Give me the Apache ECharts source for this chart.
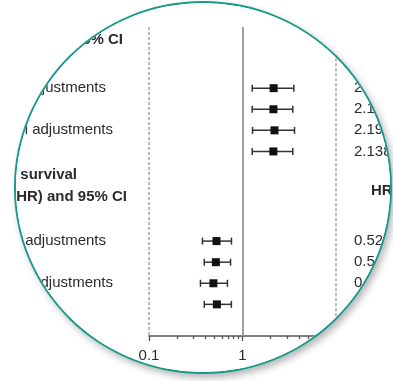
<!DOCTYPE html>
<html>
<head>
<meta charset="utf-8">
<script src="https://cdn.jsdelivr.net/npm/echarts@6/dist/echarts.min.js"></script>
<style>
  html, body { margin: 0; padding: 0; background: #ffffff; }
  #stage { position: relative; width: 393px; height: 381px; overflow: hidden; background: #fff; }
  #lens { position: absolute; left: 14px; top: 1px; width: 374px; height: 369px;
          border: 2px solid #189a8b; border-radius: 50%; overflow: hidden; background: #fff;
          box-shadow: 3px 4px 7px rgba(0,0,0,0.28); }
  #chart { position: absolute; left: -16px; top: -3px; width: 393px; height: 381px; }
</style>
</head>
<body>
<div id="stage"><div id="lens"><div id="chart"></div></div></div>
<script>
// ---- data ----
const rowsA = [0, 1, 2, 3];
const hrA   = [2.152, 2.143, 2.197, 2.138];
const loA   = [1.27, 1.27, 1.28, 1.27];
const hiA   = [3.54, 3.45, 3.60, 3.45];

const rowsB = [7.25, 8.25, 9.25, 10.25];
const hrB   = [0.527, 0.519, 0.489, 0.532];
const loB   = [0.373, 0.39, 0.355, 0.39];
const hiB   = [0.762, 0.745, 0.69, 0.76];

const rowLabels = ["Without adjustments", "", "With full adjustments", ""];
const headingA = ["Progression-free survival", "Hazard ratio (HR) and 95% CI"];
const headingB = ["Overall survival", "Hazard ratio (HR) and 95% CI"];
const hrHeader = "HR (95% CI)";
const majorTicks = [0.1, 1, 10];
const minorTicks = [0.2,0.3,0.4,0.5,0.6,0.7,0.8,0.9,2,3,4,5,6,7,8,9];

const FONT = '"Liberation Sans", Arial, sans-serif';
const INK = '#2b2b2b';

function mk(rows, hr, lo, hi) {
  return rows.map((r, i) => [r, hr[i], lo[i], hi[i]]);
}
const data = mk(rowsA, hrA, loA, hiA).concat(mk(rowsB, hrB, loB, hiB));

const chart = echarts.init(document.getElementById('chart'), null, {renderer: 'canvas'});

function renderItem(params, api) {
  const y = api.value(0);
  const pE = api.coord([api.value(1), y]);
  const pL = api.coord([api.value(2), y]);
  const pH = api.coord([api.value(3), y]);
  const cap = 3.5, sq = 8;
  const ls = {stroke: '#333', lineWidth: 1.5};
  return {
    type: 'group',
    children: [
      {type: 'line', shape: {x1: pL[0], y1: pL[1], x2: pH[0], y2: pH[1]}, style: ls},
      {type: 'line', shape: {x1: pL[0], y1: pL[1]-cap, x2: pL[0], y2: pL[1]+cap}, style: ls},
      {type: 'line', shape: {x1: pH[0], y1: pH[1]-cap, x2: pH[0], y2: pH[1]+cap}, style: ls},
      {type: 'rect', shape: {x: pE[0]-sq/2, y: pE[1]-sq/2, width: sq, height: sq}, style: {fill: '#111'}}
    ]
  };
}

const yMin = -2.9, yMax = 11.75;

chart.setOption({
  animation: false,
  backgroundColor: '#fff',
  grid: {left: 149, right: 57, top: 27, bottom: 45},
  xAxis: [
    {type: 'log', logBase: 10, min: 0.1, max: 10, position: 'bottom',
     axisLine: {show: true, onZero: false, lineStyle: {color: '#555', width: 1.5}},
     axisTick: {show: true, length: 5, customValues: majorTicks, lineStyle: {color: '#555', width: 1.3}},
     axisLabel: {show: true, customValues: majorTicks, fontSize: 15, color: INK, fontFamily: FONT, margin: 12,
                 formatter: v => String(v)},
     splitLine: {show: false}},
    {type: 'log', logBase: 10, min: 0.1, max: 10, position: 'bottom', offset: 0,
     axisLine: {show: false, onZero: false},
     axisTick: {show: true, length: 3, customValues: minorTicks, lineStyle: {color: '#555', width: 1.3}},
     axisLabel: {show: false},
     splitLine: {show: false}}
  ],
  yAxis: {type: 'value', inverse: true, min: yMin, max: yMax, show: false},
  series: [{
    type: 'custom',
    renderItem: renderItem,
    encode: {x: [1, 2, 3], y: 0},
    data: data,
    clip: false,
    markLine: {
      silent: true, symbol: 'none', label: {show: false},
      data: [
        [{coord: [1, yMin], lineStyle: {color: '#a0a0a0', width: 2, type: 'solid'}}, {coord: [1, yMax]}],
        [{coord: [0.1, yMin], lineStyle: {color: '#a5a5a5', width: 1.5, type: [3, 2]}}, {coord: [0.1, yMax]}],
        [{coord: [10, -1.42], lineStyle: {color: '#a5a5a5', width: 1.5, type: [3, 2]}}, {coord: [10, yMax]}]
      ]
    }
  }]
});

// ---- texts placed on rows via the y scale ----
function py(v) { return chart.convertToPixel({yAxisIndex: 0}, v); }
function txt(s, x, v, align, bold) {
  return {type: 'text', z: 10, style: {text: s, x: x, y: py(v), textAlign: align, textVerticalAlign: 'middle',
          fontSize: 15, fontWeight: bold ? 'bold' : 'normal', fontFamily: FONT, fill: INK}};
}
const g = [];
g.push(txt(headingA[0], 77, -3.3, 'right', true));
g.push(txt(headingA[1], 123, -2.27, 'right', true));
g.push(txt(headingB[0], 77, 4.12, 'right', true));
g.push(txt(headingB[1], 127, 5.17, 'right', true));
g.push(txt(hrHeader, 371, -2.5, 'left', true));
g.push(txt(hrHeader, 371, 4.88, 'left', true));
const ends = [106, 0, 113, 0];
[rowsA, rowsB].forEach(rows => rows.forEach((r, i) => {
  if (rowLabels[i]) g.push(txt(rowLabels[i], ends[i], r, 'right', false));
}));
function fmt(h, l, u) { return h.toFixed(3) + ' (' + l.toFixed(3) + '–' + u.toFixed(3) + ')'; }
rowsA.forEach((r, i) => g.push(txt(fmt(hrA[i], loA[i], hiA[i]), 354, r, 'left', false)));
rowsB.forEach((r, i) => g.push(txt(fmt(hrB[i], loB[i], hiB[i]), 354, r, 'left', false)));
chart.setOption({graphic: g});
</script>
</body>
</html>
